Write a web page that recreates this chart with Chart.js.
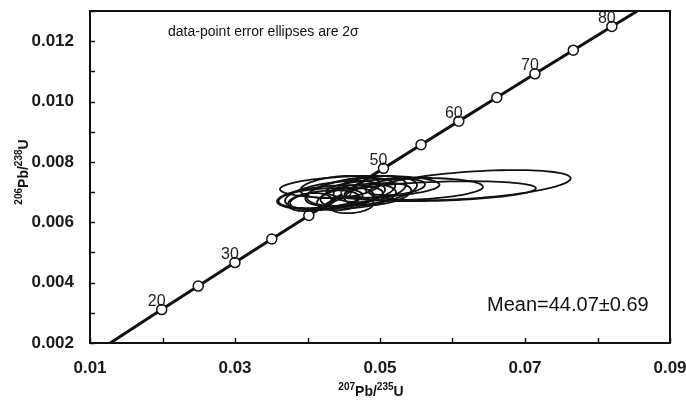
<!DOCTYPE html>
<html lang="en">
<head>
    <meta charset="UTF-8">
    <title>Concordia</title>
    <script src="https://cdn.jsdelivr.net/npm/chart.js"></script>
    <style>
        body { margin: 0; background: #fff; }
        .chart-box { width: 686px; height: 403px; }
    </style>
</head>
<body>
    <div class="chart-box"><canvas id="concordia"></canvas></div>

    <script>
        // concordia age marks (Ma) and their ratios
        const ages = [20, 25, 30, 35, 40, 45, 50, 55, 60, 65, 70, 75, 80];
        const concX = [0.01989, 0.02493, 0.02999, 0.03507, 0.04018, 0.04532, 0.05048, 0.05566, 0.06087, 0.06611, 0.07137, 0.07666, 0.08198];
        const concY = [0.003107, 0.003886, 0.004665, 0.005444, 0.006224, 0.007005, 0.007786, 0.008568, 0.009351, 0.010134, 0.010918, 0.011702, 0.012487];
        const labelledAges = [20, 30, 50, 60, 70, 80];
        // where the curve leaves the frame
        const curveStart = [0.01278, 0.002];
        const curveEnd = [0.0855, 0.013];

        // error ellipses (2 sigma): centre, half widths, correlation
        const ellX   = [0.0624, 0.0583, 0.0534, 0.0521, 0.0472, 0.0431, 0.0438, 0.0424, 0.0459, 0.0475, 0.0452, 0.0470, 0.0403, 0.0497, 0.0461, 0.0445, 0.0418, 0.0486];
        const ellY   = [0.00723, 0.00703, 0.00710, 0.00717, 0.00717, 0.00683, 0.00690, 0.00673, 0.00700, 0.00703, 0.00677, 0.00687, 0.00667, 0.00693, 0.00657, 0.00717, 0.00680, 0.00710];
        const ellSx  = [0.0139, 0.0132, 0.0108, 0.0041, 0.0110, 0.0073, 0.0069, 0.0048, 0.0062, 0.0076, 0.0039, 0.0052, 0.0030, 0.0046, 0.0030, 0.0055, 0.0058, 0.0050];
        const ellSy  = [0.00050, 0.00033, 0.00037, 0.00027, 0.00037, 0.00040, 0.00047, 0.00033, 0.00047, 0.00050, 0.00037, 0.00040, 0.00030, 0.00037, 0.00027, 0.00037, 0.00033, 0.00043];
        const ellRho = [0.45, 0.3, 0.2, 0.3, 0.2, 0.35, 0.4, 0.3, 0.45, 0.4, 0.35, 0.3, 0.25, 0.35, 0.2, 0.3, 0.3, 0.35];

        const xTicks = [0.01, 0.03, 0.05, 0.07, 0.09];
        const yTicks = [0.002, 0.004, 0.006, 0.008, 0.010, 0.012];

        const noteText = 'data-point error ellipses are 2\u03c3';
        const meanText = 'Mean=44.07\u00b10.69';

        const FONT = '"Liberation Sans", Arial, sans-serif';

        const markerPts = concX.map((x, i) => ({ x: x, y: concY[i] }));
        const curvePts = [{ x: curveStart[0], y: curveStart[1] }, ...markerPts, { x: curveEnd[0], y: curveEnd[1] }];

        // title with superscript mass numbers
        function drawIsoTitle(ctx, parts, cx, cy, rotate) {
            ctx.save();
            ctx.translate(cx, cy);
            if (rotate) ctx.rotate(-Math.PI / 2);
            let total = 0;
            parts.forEach(p => {
                ctx.font = 'bold ' + (p.sup ? 10 : 14) + 'px ' + FONT;
                total += ctx.measureText(p.t).width;
            });
            let x = -total / 2;
            ctx.textBaseline = 'alphabetic';
            ctx.textAlign = 'left';
            ctx.fillStyle = '#111';
            parts.forEach(p => {
                ctx.font = 'bold ' + (p.sup ? 10 : 14) + 'px ' + FONT;
                ctx.fillText(p.t, x, p.sup ? -1 : 5);
                x += ctx.measureText(p.t).width;
            });
            ctx.restore();
        }

        const decor = {
            id: 'decor',
            afterDatasetsDraw(chart) {
                const ctx = chart.ctx;
                const xs = chart.scales.x, ys = chart.scales.y;
                const a = chart.chartArea;

                // ellipses
                ctx.save();
                ctx.beginPath();
                ctx.rect(a.left, a.top, a.right - a.left, a.bottom - a.top);
                ctx.clip();
                ctx.strokeStyle = '#111';
                ctx.lineWidth = 1.8;
                for (let i = 0; i < ellX.length; i++) {
                    const q = Math.sqrt(1 - ellRho[i] * ellRho[i]);
                    ctx.beginPath();
                    for (let k = 0; k <= 90; k++) {
                        const t = k / 90 * Math.PI * 2;
                        const px = xs.getPixelForValue(ellX[i] + ellSx[i] * Math.cos(t));
                        const py = ys.getPixelForValue(ellY[i] + ellSy[i] * (ellRho[i] * Math.cos(t) + q * Math.sin(t)));
                        if (k === 0) ctx.moveTo(px, py); else ctx.lineTo(px, py);
                    }
                    ctx.closePath();
                    ctx.stroke();
                }
                ctx.restore();

                // age labels on the concordia
                ctx.save();
                ctx.font = '16px ' + FONT;
                ctx.fillStyle = '#222';
                ctx.textAlign = 'center';
                ctx.textBaseline = 'middle';
                labelledAges.forEach(age => {
                    const i = ages.indexOf(age);
                    const px = xs.getPixelForValue(concX[i]);
                    const py = ys.getPixelForValue(concY[i]);
                    ctx.fillText(String(age), px - 5, py - 8);
                });
                ctx.restore();
            },
            afterDraw(chart) {
                const ctx = chart.ctx;
                const xs = chart.scales.x, ys = chart.scales.y;
                const a = chart.chartArea;

                ctx.save();
                // frame
                ctx.strokeStyle = '#111';
                ctx.lineWidth = 2;
                ctx.strokeRect(a.left, a.top, a.right - a.left, a.bottom - a.top);

                // inside ticks
                ctx.lineWidth = 1.5;
                ctx.beginPath();
                xs.ticks.forEach(t => {
                    const px = Math.round(xs.getPixelForValue(t.value)) + 0.5;
                    ctx.moveTo(px, a.bottom);
                    ctx.lineTo(px, a.bottom - 5);
                });
                ys.ticks.forEach(t => {
                    const py = Math.round(ys.getPixelForValue(t.value)) + 0.5;
                    ctx.moveTo(a.left, py);
                    ctx.lineTo(a.left + 5, py);
                });
                ctx.stroke();

                // notes
                ctx.fillStyle = '#111';
                ctx.textBaseline = 'middle';
                ctx.textAlign = 'left';
                ctx.font = '14px ' + FONT;
                ctx.fillText(noteText, a.left + 78, a.top + 21);
                ctx.font = '20px ' + FONT;
                ctx.fillText(meanText, a.left + 397, a.bottom - 38);
                ctx.restore();

                drawIsoTitle(ctx, [{ t: '207', sup: true }, { t: 'Pb/' }, { t: '235', sup: true }, { t: 'U' }],
                    a.left + 281, 391, false);
                drawIsoTitle(ctx, [{ t: '206', sup: true }, { t: 'Pb/' }, { t: '238', sup: true }, { t: 'U' }],
                    23, a.top + 161, true);
            }
        };

        new Chart(document.getElementById('concordia').getContext('2d'), {
            type: 'scatter',
            data: {
                datasets: [{
                    label: 'ages',
                    data: markerPts,
                    showLine: false,
                    pointRadius: 5,
                    pointBackgroundColor: '#fff',
                    pointBorderColor: '#111',
                    pointBorderWidth: 1.5,
                    order: 0
                }, {
                    label: 'concordia',
                    data: curvePts,
                    showLine: true,
                    borderColor: '#111',
                    borderWidth: 3,
                    pointRadius: 0,
                    order: 1
                }]
            },
            options: {
                responsive: true,
                maintainAspectRatio: false,
                animation: false,
                layout: { padding: { top: 11, right: 16, left: 0, bottom: 0 } },
                plugins: { legend: { display: false }, tooltip: { enabled: false } },
                scales: {
                    x: {
                        type: 'linear',
                        min: 0.01,
                        max: 0.09,
                        grid: { display: false, drawTicks: false },
                        border: { display: false },
                        afterFit: s => { s.height = 60; s.paddingLeft = 0; s.paddingRight = 0; },
                        ticks: {
                            stepSize: 0.01,
                            autoSkip: false,
                            maxRotation: 0,
                            padding: 15,
                            color: '#1a1a1a',
                            font: { family: FONT, size: 17, weight: 'bold' },
                            callback: v => xTicks.some(t => Math.abs(t - v) < 1e-6) ? v.toFixed(2) : ''
                        }
                    },
                    y: {
                        type: 'linear',
                        min: 0.002,
                        max: 0.013,
                        grid: { display: false, drawTicks: false },
                        border: { display: false },
                        afterFit: s => { s.width = 90; s.paddingTop = 0; s.paddingBottom = 0; },
                        ticks: {
                            stepSize: 0.001,
                            autoSkip: false,
                            padding: 16,
                            color: '#1a1a1a',
                            font: { family: FONT, size: 17, weight: 'bold' },
                            callback: v => yTicks.some(t => Math.abs(t - v) < 1e-7) ? v.toFixed(3) : ''
                        }
                    }
                }
            },
            plugins: [decor]
        });
    </script>
</body>
</html>
